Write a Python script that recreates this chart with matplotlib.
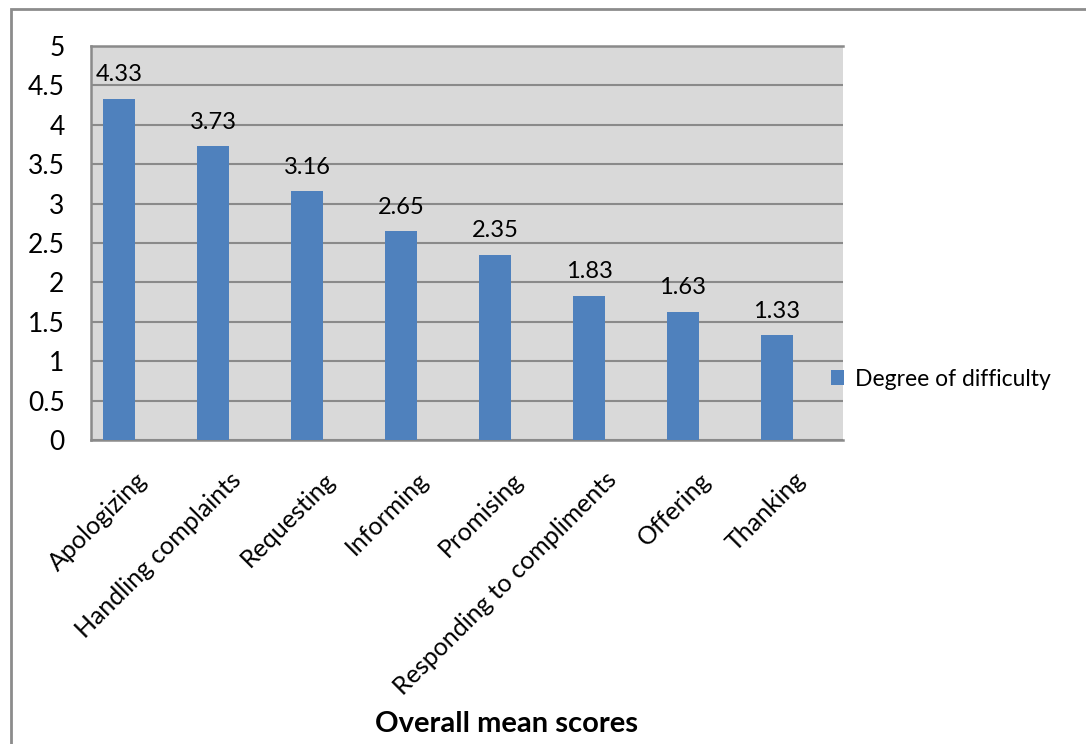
import matplotlib
matplotlib.use("Agg")
import matplotlib.pyplot as plt
from matplotlib.patches import Rectangle
from matplotlib.transforms import ScaledTranslation

plt.rcParams['font.family'] = ['Lato', 'DejaVu Sans']

categories = ["Apologizing", "Handling complaints", "Requesting", "Informing",
              "Promising", "Responding to compliments", "Offering", "Thanking"]
scores = [4.33, 3.73, 3.16, 2.65, 2.35, 1.83, 1.63, 1.33]
yticks = [0, 0.5, 1, 1.5, 2, 2.5, 3, 3.5, 4, 4.5, 5]

fig = plt.figure(figsize=(10.86, 7.44), dpi=100)
# outer chart frame
fig.patches.append(Rectangle((11/1086, -0.1), 1.2, 1 - 9/744 + 0.1, transform=fig.transFigure,
                             fill=False, edgecolor="#8c8c8c", linewidth=2))

ax = fig.add_axes([0.0838, 0.4086, 0.6924, 0.5296])
ax.set_facecolor("#d9d9d9")
x = list(range(len(categories)))
bars = ax.bar(x, scores, width=0.34, color="#4f81bd", zorder=3, label="Degree of difficulty")
for xi, v in zip(x, scores):
    ax.text(xi, v + 0.17, f"{v:.2f}", ha="center", va="bottom", fontsize=17, zorder=4)

ax.set_ylim(0, 5)
ax.set_xlim(-0.298, 7.702)
ax.set_yticks(yticks)
ax.set_yticklabels([f"{t:g}" for t in yticks], fontsize=19)
ax.yaxis.grid(True, color="#8a8a8a", linewidth=1.5, zorder=1)
ax.set_axisbelow(True)
ax.tick_params(axis="y", length=0, pad=19)
ax.tick_params(axis="x", length=0, pad=26)
ax.set_xticks(x)
ax.set_xticklabels(categories, rotation=45, ha="right", va="center",
                   rotation_mode="anchor", fontsize=18)
shift = ScaledTranslation(24/100, 0, fig.dpi_scale_trans)
for lab in ax.get_xticklabels():
    lab.set_transform(lab.get_transform() + shift)
for side in ["left", "bottom", "top"]:
    ax.spines[side].set_color("#8a8a8a")
    ax.spines[side].set_linewidth(1.8)
ax.spines["right"].set_visible(False)

fig.legend(handles=[bars], labels=["Degree of difficulty"], loc="center left",
           bbox_to_anchor=(810/1086, 1 - 379/744), frameon=False, fontsize=16.5,
           handlelength=0.6, handleheight=0.6, handletextpad=0.45)

fig.text(507/1086, 1 - 724/744, "Overall mean scores", ha="center", va="center",
         fontsize=21, fontweight="bold")

fig.savefig("out.png", dpi=100)
